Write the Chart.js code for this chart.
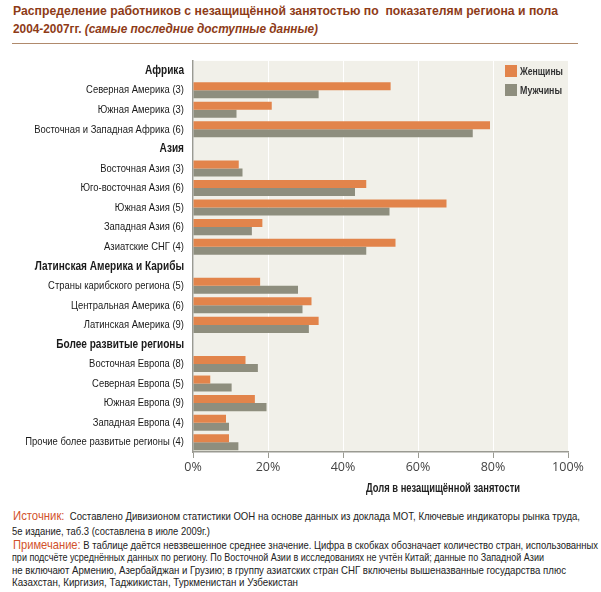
<!DOCTYPE html>
<html>
<head>
<meta charset="utf-8">
<script src="https://cdn.jsdelivr.net/npm/chart.js@4/dist/chart.umd.min.js"></script>
<style>
  html, body { margin:0; padding:0; background:#fff; }
  body { width:601px; height:592px; position:relative; overflow:hidden;
         font-family:"Liberation Sans","Arial",sans-serif; }
  .t { position:absolute; white-space:nowrap; transform-origin:0 50%; }
  .title { color:#8e3b17; font-weight:bold; font-size:13.5px; line-height:16px; }
  #rule { position:absolute; left:12px; top:43px; width:566px; height:1px; background:#b08a6c; }
  #wrap { position:absolute; left:0; top:45px; width:601px; height:440px; }
  #xtitle { font-weight:bold; font-size:12.5px; color:#222; line-height:14px; }
  .leg { font-weight:bold; font-size:11.5px; color:#333; line-height:13px; }
  .sw { position:absolute; width:12px; height:12px; }
  .foot { font-size:11px; line-height:13px; color:#222; }
  .foot .h { color:#d2522b; font-size:13px; }
</style>
</head>
<body>
<div class="t title" style="left:13px; top:3px" data-w="545">Распределение работников с незащищённой занятостью по&nbsp; показателям региона и пола</div>
<div class="t title" style="left:13px; top:21px" data-w="305">2004-2007гг. <i>(самые последние доступные данные)</i></div>
<div id="rule"></div>
<div id="wrap"><canvas id="c" width="601" height="440"></canvas></div>
<div id="legend"></div>
<div id="xtitle" class="t" style="left:366px; top:481px" data-w="154">Доля в незащищённой занятости</div>
<div class="t foot" style="left:13px; top:509px" data-w="567"><span class="h">Источник:</span>&nbsp; Составлено Дивизионом статистики ООН на основе данных из доклада МОТ, Ключевые индикаторы рынка труда,</div>
<div class="t foot" style="left:12px; top:525px" data-w="198">5е издание, таб.3 (составлена в июле 2009г.)</div>
<div class="t foot" style="left:13px; top:538px" data-w="585"><span class="h">Примечание:</span> В таблице даётся невзвешенное среднее значение. Цифра в скобках обозначает количество стран, использованных</div>
<div class="t foot" style="left:12px; top:551px" data-w="532">при подсчёте усреднённых данных по региону. По Восточной Азии в исследованиях не учтён Китай; данные по Западной Азии</div>
<div class="t foot" style="left:12px; top:564px" data-w="554">не включают Армению, Азербайджан и Грузию; в группу азиатских стран СНГ включены вышеназванные государства плюс</div>
<div class="t foot" style="left:12px; top:576px" data-w="286">Казахстан, Киргизия, Таджикистан, Туркменистан и Узбекистан</div>
<script>
// ---- data ----
const categories = [
  "Африка",
  "Северная Америка (3)",
  "Южная Америка (3)",
  "Восточная и Западная Африка (6)",
  "Азия",
  "Восточная Азия (3)",
  "Юго-восточная Азия (6)",
  "Южная Азия (5)",
  "Западная Азия (6)",
  "Азиатские СНГ (4)",
  "Латинская Америка и Карибы",
  "Страны карибского региона (5)",
  "Центральная Америка (6)",
  "Латинская Америка (9)",
  "Более развитые регионы",
  "Восточная Европа (8)",
  "Северная Европа (5)",
  "Южная Европа (9)",
  "Западная Европа (4)",
  "Прочие более развитые регионы (4)"
];
const groupHeaders = ["Африка", "Азия", "Латинская Америка и Карибы", "Более развитые регионы"];
const women = [null, 52.7, 21.0, 79.2, null, 12.2, 46.2, 67.6, 18.5, 54.0, null, 17.9, 31.6, 33.5, null, 14.0, 4.6, 16.5, 8.8, 9.6];
const men   = [null, 33.5, 11.6, 74.6, null, 13.2, 43.2, 52.4, 15.7, 46.2, null, 28.0, 29.2, 30.9, null, 17.3, 10.3, 19.6, 9.6, 12.1];
const seriesNames = ["Женщины", "Мужчины"];
const xTicks = [0, 20, 40, 60, 80, 100];

const colors = ["#e2844b", "#8e8e7e"];
const labelStretch = 0.82; // emulate a narrow typeface

// Category scale whose tick labels are drawn horizontally condensed
class NarrowCategoryScale extends Chart.CategoryScale {
  _computeLabelArea() { return undefined; }
  drawLabels(chartArea) {
    const ctx = this.ctx;
    const x0 = this.right - this.options.ticks.padding;
    ctx.save();
    ctx.translate(x0, 0); ctx.scale(labelStretch, 1); ctx.translate(-x0, 0);
    super.drawLabels(chartArea);
    ctx.restore();
  }
}
NarrowCategoryScale.id = 'narrowCategory';
NarrowCategoryScale.defaults = Chart.CategoryScale.defaults;
Chart.register(NarrowCategoryScale);

const bgPlugin = {
  id: 'plotBg',
  beforeDraw(chart) {
    const a = chart.chartArea, ctx = chart.ctx;
    ctx.save();
    ctx.fillStyle = '#f1f0e9';
    ctx.fillRect(a.left, a.top, a.right - a.left, a.bottom - a.top);
    ctx.restore();
  }
};

const chart = new Chart(document.getElementById('c'), {
  type: 'bar',
  data: {
    labels: categories,
    datasets: [
      { label: seriesNames[0], data: women, backgroundColor: colors[0], categoryPercentage: 0.82, barPercentage: 1.0 },
      { label: seriesNames[1], data: men, backgroundColor: colors[1], categoryPercentage: 0.82, barPercentage: 1.0 }
    ]
  },
  options: {
    indexAxis: 'y',
    responsive: false,
    animation: false,
    layout: { padding: { top: 13, right: 33, left: 0, bottom: 0 } },
    plugins: { legend: { display: false }, tooltip: { enabled: false } },
    scales: {
      x: {
        min: 0, max: 100,
        afterFit(s) { s.height = 33; },
        afterBuildTicks(s) { s.ticks = xTicks.map(v => ({ value: v })); },
        grid: { color: '#ffffff', lineWidth: 1, drawTicks: true, tickLength: 6, tickColor: '#9a9a92' },
        border: { display: true, color: '#9a9a92', width: 1.5 },
        ticks: {
          padding: 2,
          color: '#444',
          font: { family: '"Open Sans", "DejaVu Sans", sans-serif', size: 12.5 },
          callback: v => v + '%'
        }
      },
      y: {
        type: 'narrowCategory',
        afterFit(s) { s.width = 193; },
        grid: { display: false, drawTicks: false },
        border: { display: true, color: '#9a9a92', width: 1.5 },
        ticks: {
          padding: 9,
          autoSkip: false,
          color: '#1a1a1a',
          font: (ctx) => {
            const lbl = categories[ctx.index];
            return groupHeaders.includes(lbl)
              ? { family: '"Liberation Sans", Arial, sans-serif', size: 12.3, weight: 'bold' }
              : { family: '"Liberation Sans", Arial, sans-serif', size: 11.5, weight: 'normal' };
          }
        }
      }
    }
  },
  plugins: [bgPlugin]
});

// HTML legend built from dataset labels
const leg = document.getElementById('legend');
const legW = [43, 42];
chart.data.datasets.forEach((ds, i) => {
  const top = 65 + i * 19;
  const sw = document.createElement('div');
  sw.className = 'sw';
  sw.style.left = '505px'; sw.style.top = top + 'px'; sw.style.background = ds.backgroundColor;
  const tx = document.createElement('div');
  tx.className = 't leg';
  tx.style.left = '520px'; tx.style.top = top + 'px';
  tx.dataset.w = legW[i];
  tx.textContent = ds.label;
  leg.appendChild(sw); leg.appendChild(tx);
});

// condense text lines horizontally to the measured widths (narrow typeface emulation)
document.querySelectorAll('[data-w]').forEach(el => {
  const w = el.getBoundingClientRect().width;
  const target = parseFloat(el.dataset.w);
  if (w > 0) el.style.transform = 'scaleX(' + (target / w).toFixed(4) + ')';
});
</script>
</body>
</html>
